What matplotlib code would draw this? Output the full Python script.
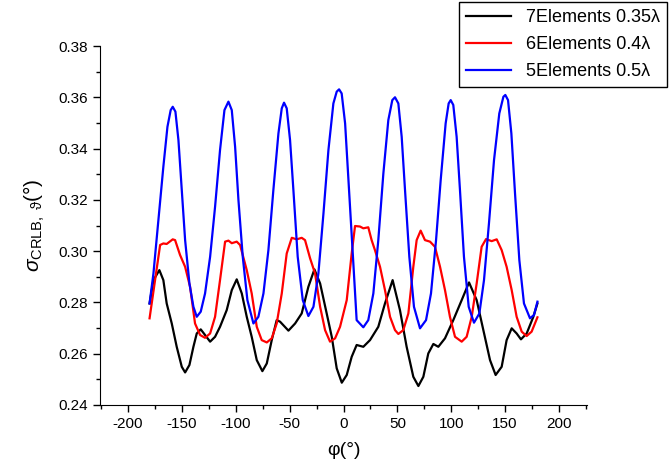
import matplotlib
matplotlib.use("Agg")
import matplotlib.pyplot as plt
from matplotlib.ticker import MultipleLocator, FormatStrFormatter

plt.rcParams['font.family'] = ['Liberation Sans', 'DejaVu Sans']
plt.rcParams['mathtext.fontset'] = 'custom'
plt.rcParams['mathtext.rm'] = 'Liberation Sans'
plt.rcParams['mathtext.it'] = 'Liberation Sans:italic'
plt.rcParams['axes.unicode_minus'] = False

## values (phi in degrees, sigma in degrees)
phi_7 = [-180, -176.4, -170.9, -167.2, -164.1, -159.4, -154.8, -150.1, -147.0, -143.0,
         -139.3, -136.2, -132.5, -128.5, -123.8, -119.2, -114.6, -108.4, -103.7, -99.1,
         -94.4, -89.8, -85.2, -80.5, -75.3, -71.2, -66.6, -62.0, -58.9, -51.1,
         -44.9, -38.8, -32.6, -27.0, -21.7, -15.6, -10.9, -6.3, -1.6, 3.0,
         7.6, 12.2, 18.4, 24.6, 32.3, 38.5, 45.6, 52.4, 58.6, 64.8,
         69.5, 74.1, 78.7, 83.4, 88.0, 94.2, 101.9, 109.7, 116.5, 123.6,
         129.8, 136.0, 141.2, 146.8, 151.4, 156.1, 160.7, 164.7, 170.0, 176.2, 180]
sig_7 = [0.2796, 0.2887, 0.2926, 0.2887, 0.2796, 0.2718, 0.2627, 0.2549, 0.2527, 0.2556,
         0.2627, 0.2679, 0.2695, 0.2673, 0.2647, 0.2666, 0.2705, 0.2770, 0.2848, 0.2890,
         0.2835, 0.2744, 0.2666, 0.2575, 0.2532, 0.2562, 0.2653, 0.2731, 0.2725, 0.2690,
         0.2718, 0.2757, 0.2861, 0.2929, 0.2874, 0.2757, 0.2666, 0.2543, 0.2487, 0.2517,
         0.2588, 0.2634, 0.2627, 0.2653, 0.2705, 0.2796, 0.2887, 0.2770, 0.2627, 0.2510,
         0.2474, 0.2510, 0.2601, 0.2638, 0.2627, 0.2660, 0.2731, 0.2809, 0.2878, 0.2809,
         0.2692, 0.2575, 0.2517, 0.2549, 0.2653, 0.2699, 0.2679, 0.2656, 0.2679, 0.2744, 0.2796]

phi_6 = [-180, -170.2, -167.2, -164.1, -158.5, -156.3, -151.7, -147.0, -142.4, -137.8,
         -133.1, -128.5, -123.8, -119.2, -114.6, -109.9, -106.8, -103.7, -99.1, -96.0,
         -89.8, -85.2, -80.5, -75.9, -71.2, -66.6, -62.0, -57.3, -52.7, -48.0,
         -43.4, -38.8, -35.7, -31.0, -26.4, -21.7, -17.1, -12.5, -7.8, -3.2,
         3.0, 7.6, 10.7, 15.3, 18.4, 23.0, 26.1, 29.2, 33.9, 38.5,
         43.2, 47.8, 50.9, 55.5, 60.2, 64.8, 67.9, 71.6, 75.6, 80.3,
         84.9, 89.6, 94.2, 98.8, 103.5, 109.7, 114.3, 119.0, 123.6, 128.2,
         132.3, 137.5, 142.2, 146.8, 151.4, 156.1, 160.7, 165.4, 170.0, 174.6, 180]
sig_6 = [0.2738, 0.3024, 0.3030, 0.3028, 0.3046, 0.3043, 0.2985, 0.2939, 0.2861, 0.2718,
         0.2673, 0.2662, 0.2679, 0.2744, 0.2887, 0.3037, 0.3041, 0.3031, 0.3037, 0.3024,
         0.2926, 0.2835, 0.2705, 0.2653, 0.2644, 0.2660, 0.2718, 0.2835, 0.2991, 0.3052,
         0.3046, 0.3052, 0.3043, 0.2972, 0.2913, 0.2783, 0.2692, 0.2647, 0.2660, 0.2705,
         0.2809, 0.2991, 0.3098, 0.3096, 0.3089, 0.3093, 0.3043, 0.3004, 0.2939, 0.2848,
         0.2744, 0.2692, 0.2677, 0.2692, 0.2757, 0.2939, 0.3043, 0.3080, 0.3043, 0.3037,
         0.3017, 0.2939, 0.2848, 0.2744, 0.2666, 0.2647, 0.2666, 0.2744, 0.2874, 0.3017,
         0.3047, 0.3039, 0.3046, 0.3004, 0.2939, 0.2848, 0.2744, 0.2686, 0.2669, 0.2686, 0.2742]

phi_5 = [-180, -176.4, -171.8, -167.2, -163.4, -160.4, -158.5, -156.0, -153.2, -150.1,
         -147.0, -143.0, -139.3, -136.2, -132.5, -128.5, -123.8, -119.2, -114.6, -110.5,
         -106.8, -103.7, -100.6, -97.5, -93.5, -89.2, -83.6, -79.0, -74.3, -69.7,
         -65.1, -60.4, -57.3, -55.2, -52.7, -49.6, -46.5, -42.5, -37.8, -32.6,
         -27.9, -23.3, -18.6, -14.0, -9.4, -6.3, -4.1, -1.7, 1.5, 4.6,
         8.6, 12.2, 18.4, 23.0, 27.7, 32.3, 37.0, 41.6, 45.3, 47.8,
         50.9, 54.0, 57.1, 61.1, 65.4, 71.0, 76.6, 81.2, 85.9, 90.2,
         94.8, 97.6, 99.5, 101.9, 105.0, 108.1, 111.8, 116.2, 121.1, 126.1,
         130.4, 135.0, 139.7, 144.6, 148.4, 150.2, 152.7, 155.8, 159.2, 163.2,
         167.5, 173.1, 176.8, 180]
sig_5 = [0.2796, 0.2913, 0.3121, 0.3329, 0.3485, 0.3550, 0.3563, 0.3544, 0.3433, 0.3238,
         0.3043, 0.2874, 0.2783, 0.2744, 0.2764, 0.2835, 0.2978, 0.3173, 0.3394, 0.3550,
         0.3583, 0.3550, 0.3407, 0.3199, 0.2978, 0.2809, 0.2718, 0.2744, 0.2835, 0.3004,
         0.3238, 0.3459, 0.3557, 0.3579, 0.3557, 0.3433, 0.3238, 0.2978, 0.2809, 0.2747,
         0.2783, 0.2913, 0.3147, 0.3394, 0.3576, 0.3622, 0.3631, 0.3615, 0.3498, 0.3277,
         0.2991, 0.2731, 0.2703, 0.2731, 0.2835, 0.3043, 0.3303, 0.3511, 0.3589, 0.3600,
         0.3576, 0.3446, 0.3238, 0.2978, 0.2783, 0.2699, 0.2731, 0.2835, 0.3043, 0.3277,
         0.3498, 0.3576, 0.3589, 0.3570, 0.3446, 0.3238, 0.2978, 0.2783, 0.2721, 0.2757,
         0.2887, 0.3108, 0.3355, 0.3537, 0.3602, 0.3609, 0.3589, 0.3459, 0.3225, 0.2965,
         0.2796, 0.2738, 0.2751, 0.2803]

labels = ["7Elements 0.35\u03bb", "6Elements 0.4\u03bb", "5Elements 0.5\u03bb"]

fig = plt.figure(figsize=(6.72, 4.72), dpi=100)
ax = fig.add_axes([100/672, 1 - 405/472, 487/672, 359/472])

ax.plot(phi_7, sig_7, color="black", lw=1.6, solid_joinstyle="round", label=labels[0])
ax.plot(phi_6, sig_6, color="red", lw=1.6, solid_joinstyle="round", label=labels[1])
ax.plot(phi_5, sig_5, color="blue", lw=1.6, solid_joinstyle="round", label=labels[2])

ax.set_xlim(-226, 226)
ax.set_ylim(0.24, 0.38)
ax.xaxis.set_major_locator(MultipleLocator(50))
ax.xaxis.set_minor_locator(MultipleLocator(25))
ax.yaxis.set_major_locator(MultipleLocator(0.02))
ax.yaxis.set_minor_locator(MultipleLocator(0.01))
ax.yaxis.set_major_formatter(FormatStrFormatter("%.2f"))

ax.spines["top"].set_visible(False)
ax.spines["right"].set_visible(False)
ax.tick_params(which="major", direction="out", length=5, width=1, labelsize=11)
ax.tick_params(which="minor", direction="out", length=3, width=1)

ax.set_xlabel("\u03c6(\u00b0)", fontsize=14, labelpad=8)
ax.set_ylabel(r"$\sigma_{\mathrm{CRLB,\ \vartheta}}$" + "(\u00b0)", fontsize=15, labelpad=8)

leg = fig.legend(loc="upper left", bbox_to_anchor=(459/672, 1 - 2/472), borderaxespad=0,
                 fontsize=13, handlelength=2.5, labelspacing=0.55, fancybox=False,
                 edgecolor="black", framealpha=1)
leg.get_frame().set_linewidth(1)

fig.savefig("out.png", dpi=100)
